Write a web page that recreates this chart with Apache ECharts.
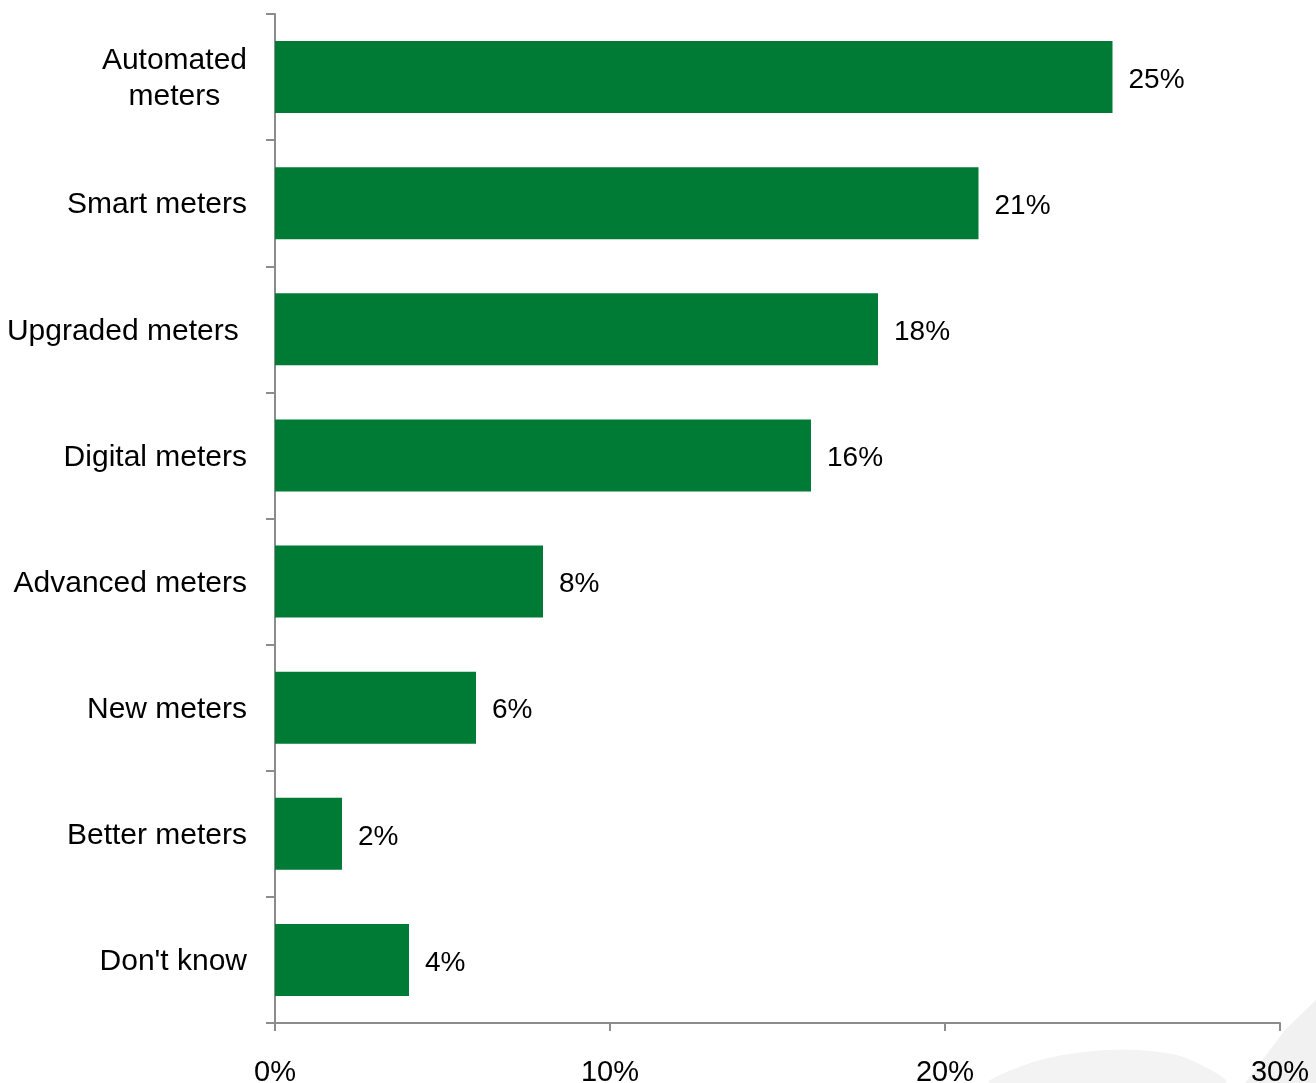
<!DOCTYPE html>
<html>
<head>
<meta charset="utf-8">
<script src="https://cdn.jsdelivr.net/npm/echarts@6/dist/echarts.min.js"></script>
<style>
  html, body { margin: 0; padding: 0; background: #fff; }
  #chart { width: 1316px; height: 1083px; }
</style>
</head>
<body>
<div id="chart"></div>
<script>
// Meter terminology responses (share of respondents)
const categories = [
  'Automated\nmeters',
  'Smart meters',
  'Upgraded meters ',
  'Digital meters',
  'Advanced meters',
  'New meters',
  'Better meters',
  "Don't know"
];
const shares = [25, 21, 18, 16, 8, 6, 2, 4];
const xTicks = [0, 10, 20, 30];

const FONT = '"Liberation Sans", Arial, sans-serif';
const AXIS_GRAY = '#8c8c8c';

const chart = echarts.init(document.getElementById('chart'), null, { renderer: 'canvas' });

// each line of a category label is centred within the label block
const centredLines = v => v.split('\n').map(s => '{c|' + s + '}').join('\n');

chart.setOption({
  animation: false,
  backgroundColor: '#ffffff',
  graphic: [
    {
      // faint decorative swoosh in the lower right corner
      type: 'polygon',
      z: -10,
      shape: {
        smooth: 0.3,
        points: [[990, 1083], [1040, 1060], [1110, 1050], [1180, 1056], [1225, 1083]]
      },
      style: { fill: '#f3f3f3' }
    },
    {
      type: 'polygon',
      z: -10,
      shape: {
        points: [[1245, 1083], [1285, 1030], [1316, 1000], [1316, 1083]]
      },
      style: { fill: '#f1f1f1' }
    }
  ],
  grid: { left: 275, right: 36, top: 14, bottom: 60, containLabel: false, outerBoundsMode: 'none' },
  xAxis: {
    type: 'value',
    min: xTicks[0],
    max: xTicks[xTicks.length - 1],
    interval: 10,
    splitLine: { show: false },
    axisLine: { show: true, lineStyle: { color: AXIS_GRAY, width: 2 } },
    axisTick: { show: true, length: 8, lineStyle: { color: AXIS_GRAY, width: 2 } },
    axisLabel: {
      margin: 35,
      color: '#000',
      fontFamily: FONT,
      fontSize: 29,
      formatter: v => v + '%'
    }
  },
  yAxis: {
    type: 'category',
    data: categories,
    inverse: true,
    axisLine: { show: true, lineStyle: { color: AXIS_GRAY, width: 2 } },
    axisTick: { show: true, length: 9, lineStyle: { color: AXIS_GRAY, width: 2 } },
    axisLabel: {
      margin: 28,
      formatter: centredLines,
      rich: {
        c: {
          align: 'center',
          color: '#000',
          fontFamily: FONT,
          fontSize: 30,
          lineHeight: 36,
          padding: [4, 0, 0, 0]
        }
      }
    }
  },
  series: [{
    type: 'bar',
    data: shares,
    barWidth: 72,
    itemStyle: { color: '#007B35' },
    label: {
      show: true,
      position: 'right',
      distance: 16,
      offset: [0, 3],
      color: '#000',
      fontFamily: FONT,
      fontSize: 28,
      formatter: p => p.value + '%'
    }
  }]
});
</script>
</body>
</html>
